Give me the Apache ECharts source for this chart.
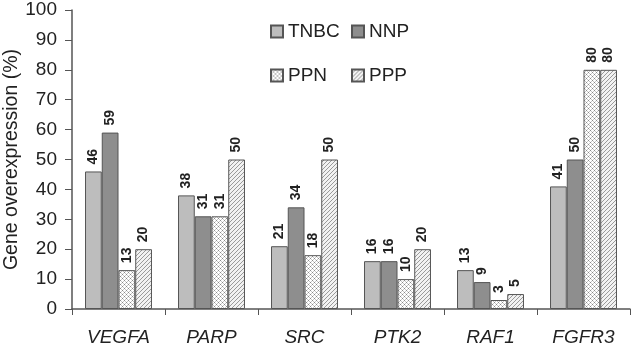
<!DOCTYPE html>
<html>
<head>
<meta charset="utf-8">
<script src="https://cdn.jsdelivr.net/npm/echarts@6/dist/echarts.min.js"></script>
<style>
  html, body { margin: 0; padding: 0; background: #fff; }
  #chart { width: 631px; height: 351px; }
</style>
</head>
<body>
<div id="chart"></div>
<script>
const genes = ['VEGFA', 'PARP', 'SRC', 'PTK2', 'RAF1', 'FGFR3']
const tnbc = [46, 38, 21, 16, 13, 41]
const nnp = [59, 31, 34, 16, 9, 50]
const ppn = [13, 31, 18, 10, 3, 80]
const ppp = [20, 50, 50, 20, 5, 80]

// hatch fills
function crossPattern() {
  const c = document.createElement('canvas')
  c.width = 4; c.height = 4
  const g = c.getContext('2d')
  g.fillStyle = '#fff'; g.fillRect(0, 0, 4, 4)
  g.fillStyle = '#8a8a8a'
  g.fillRect(0, 0, 1, 1); g.fillRect(2, 2, 1, 1)
  g.fillStyle = '#c8c8c8'
  g.fillRect(1, 1, 1, 1); g.fillRect(3, 3, 1, 1); g.fillRect(1, 3, 1, 1); g.fillRect(3, 1, 1, 1)
  return c
}
function diagPattern() {
  const c = document.createElement('canvas')
  c.width = 4; c.height = 4
  const g = c.getContext('2d')
  g.fillStyle = '#f2f2f2'; g.fillRect(0, 0, 4, 4)
  g.fillStyle = '#9a9a9a'
  for (let i = 0; i < 4; i++) g.fillRect(3 - i, i, 1, 1)
  return c
}

const chart = echarts.init(document.getElementById('chart'))
const border = { borderColor: '#555', borderWidth: 1 }
const lbl = {
  show: true, position: 'top', rotate: 90, align: 'left', verticalAlign: 'middle',
  distance: 7, fontFamily: 'Liberation Sans', fontWeight: 'bold', fontSize: 14, color: '#222'
}
const mk = (name, data, color) => ({
  name, type: 'bar', data, barGap: 0, barCategoryGap: '28%',
  itemStyle: Object.assign({ color }, border), label: lbl
})
const legendText = { fontSize: 19, color: '#222' }

chart.setOption({
  animation: false,
  textStyle: { fontFamily: 'Liberation Sans' },
  grid: { left: 72, right: 1, top: 10, bottom: 42, outerBoundsMode: 'none' },
  legend: [
    {
      orient: 'vertical', left: 270, top: 22, padding: 0, itemGap: 25, itemWidth: 12, itemHeight: 12,
      icon: 'rect', data: ['TNBC', 'PPN'], textStyle: legendText
    },
    {
      orient: 'vertical', left: 351, top: 22, padding: 0, itemGap: 25, itemWidth: 12, itemHeight: 12,
      icon: 'rect', data: ['NNP', 'PPP'], textStyle: legendText
    }
  ],
  xAxis: {
    type: 'category', data: genes,
    axisLine: { lineStyle: { color: '#555', width: 1.5 } },
    axisTick: { show: true, length: 6, lineStyle: { color: '#555' } },
    axisLabel: { fontSize: 19, fontStyle: 'italic', color: '#222', margin: 19 }
  },
  yAxis: {
    type: 'value', min: 0, max: 100, interval: 10,
    name: 'Gene overexpression (%)', nameLocation: 'middle', nameGap: 50, nameMoveOverlap: false,
    nameTextStyle: { fontSize: 19.5, color: '#222' },
    axisLine: { show: true, lineStyle: { color: '#555', width: 1.5 } },
    axisTick: { show: true, length: 7, lineStyle: { color: '#555' } },
    axisLabel: { fontSize: 19, color: '#222', margin: 15 },
    splitLine: { show: false }
  },
  series: [
    mk('TNBC', tnbc, '#bdbdbd'),
    mk('NNP', nnp, '#8e8e8e'),
    mk('PPN', ppn, { image: crossPattern(), repeat: 'repeat' }),
    mk('PPP', ppp, { image: diagPattern(), repeat: 'repeat' })
  ]
})
</script>
</body>
</html>
